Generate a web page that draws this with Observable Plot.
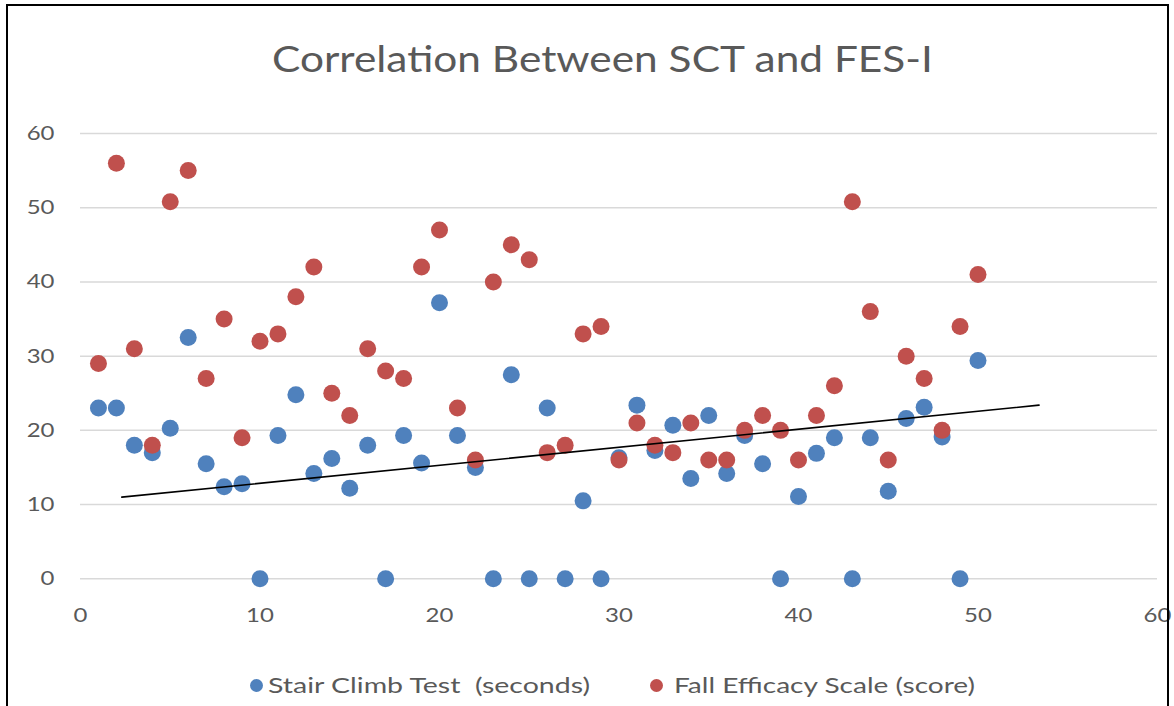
<!DOCTYPE html>
<html><head><meta charset="utf-8">
<script src="https://cdn.jsdelivr.net/npm/d3@7"></script>
<script src="https://cdn.jsdelivr.net/npm/@observablehq/plot@0.6"></script>
<style>
body{margin:0;background:#fff;}
#wrap{position:relative;width:1174px;height:706px;overflow:hidden;font-family:Lato,"Open Sans",sans-serif;background:#fff;}
#frame{position:absolute;left:6px;top:4px;width:1163px;height:760px;border:2px solid #000;box-sizing:border-box;pointer-events:none;}
#title{position:absolute;top:36px;left:272px;font-size:37px;color:#595959;line-height:44px;white-space:pre;transform-origin:0 50%;}
#chart{position:absolute;top:110px;left:0;}
.lt{position:absolute;top:670px;font-size:21px;color:#595959;line-height:30px;white-space:pre;transform-origin:0 50%;}
.sw{position:absolute;top:679px;width:13px;height:13px;border-radius:50%;}
</style>
</head><body>
<div id="wrap">
  <div id="title">Correlation Between SCT and FES-I</div>
  <div id="chart"></div>
  <div id="legend"></div>
  <div id="frame"></div>
</div>
<script>
const participants = [1,2,3,4,5,6,7,8,9,10,11,12,13,14,15,16,17,18,19,20,21,22,23,24,25,26,27,28,29,30,31,32,33,34,35,36,37,38,39,40,41,42,43,44,45,46,47,48,49,50];
const sctSeconds = [23,23,18,17,20.3,32.5,15.5,12.4,12.8,0,19.3,24.8,14.2,16.2,12.2,18,0,19.3,15.6,37.2,19.3,15,0,27.5,0,23,0,10.5,0,16.3,23.4,17.3,20.7,13.5,22,14.2,19.3,15.5,0,11.1,16.9,19,0,19,11.8,21.6,23.1,19.1,0,29.4];
const fesScore = [29,56,31,18,50.8,55,27,35,19,32,33,38,42,25,22,31,28,27,42,47,23,16,40,45,43,17,18,33,34,16,21,18,17,21,16,16,20,22,20,16,22,26,50.8,36,16,30,27,20,34,41];
const trendX = [2.3, 53.4];
const trendY = [11.0, 23.4];
const xTicks = [0,10,20,30,40,50,60];
const yTicks = [0,10,20,30,40,50,60];
const seriesNames = ["Stair Climb Test  (seconds)", "Fall Efficacy Scale (score)"];
const seriesColors = ["#4F81BD", "#C0504D"];

const sctData = participants.map((p,i)=>({x:p, y:sctSeconds[i]}));
const fesData = participants.map((p,i)=>({x:p, y:fesScore[i]}));
const trendData = trendX.map((x,i)=>({x, y:trendY[i]}));

const chart = Plot.plot({
  width:1174, height:530,
  marginLeft:80, marginRight:17, marginTop:23, marginBottom:61.7,
  style:{fontFamily:'Lato,"Open Sans",sans-serif', fontSize:"20px", color:"#595959", background:"transparent", overflow:"visible"},
  x:{domain:[0,60]},
  y:{domain:[0,60]},
  marks:[
    Plot.gridY(yTicks, {stroke:"#d9d9d9", strokeOpacity:1, strokeWidth:1.5}),
    Plot.axisX(xTicks, {tickSize:0, tickPadding:29, label:null, fill:"#595959", fontSize:20}),
    Plot.axisY(yTicks, {tickSize:0, tickPadding:26, label:null, fill:"#595959", fontSize:20}),
    Plot.dot(sctData, {x:"x", y:"y", r:8.5, fill:seriesColors[0], stroke:"none"}),
    Plot.dot(fesData, {x:"x", y:"y", r:8.5, fill:seriesColors[1], stroke:"none"}),
    Plot.line(trendData, {x:"x", y:"y", stroke:"#000", strokeWidth:1.6})
  ]
});
document.getElementById("chart").appendChild(chart);

// widen tick labels horizontally (reference text is horizontally stretched)
chart.querySelectorAll('g[aria-label$="tick label"] text').forEach(t=>{
  const tr = t.getAttribute("transform");
  if (tr) {
    t.setAttribute("transform", tr + " scale(1.2,1)");
  } else {
    const x = +(t.getAttribute("x")||0), y = +(t.getAttribute("y")||0);
    t.removeAttribute("x"); t.removeAttribute("y");
    t.setAttribute("transform", `translate(${x},${y}) scale(1.2,1)`);
  }
});

function fitWidth(el, target){
  const w = el.getBoundingClientRect().width;
  if (w > 0) el.style.transform = `scaleX(${target / w})`;
}
fitWidth(document.getElementById("title"), 661);

const legend = document.getElementById("legend");
const dotLefts = [249.5, 649.5];
const textLefts = [268, 674];
const textWidths = [322, 301];
seriesNames.forEach((name,i)=>{
  const s = document.createElement("div");
  s.className = "sw"; s.style.left = dotLefts[i] + "px"; s.style.background = seriesColors[i];
  legend.appendChild(s);
  const t = document.createElement("div");
  t.className = "lt"; t.style.left = textLefts[i] + "px";
  t.textContent = name;
  legend.appendChild(t);
  fitWidth(t, textWidths[i]);
});
</script>
</body></html>
